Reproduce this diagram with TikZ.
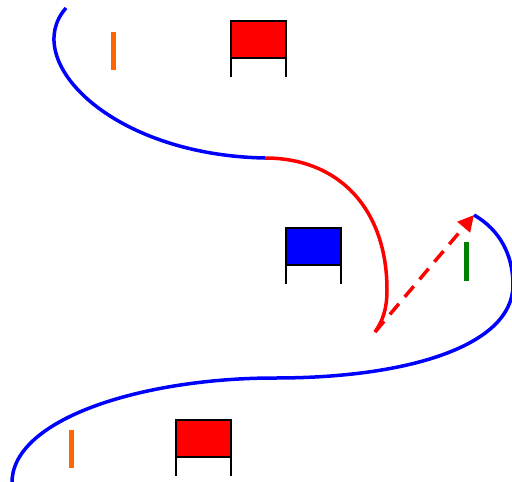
\documentclass[tikz,border=0pt]{standalone}
\usetikzlibrary{arrows.meta}
\definecolor{myorange}{RGB}{255,102,0}
\definecolor{mygreen}{RGB}{0,128,0}
\tikzset{
  path/.style={line width=3.5pt},
  flagbox/.style={draw=black, line width=2pt, minimum width=55pt, minimum height=37pt, inner sep=0pt, outer sep=0pt, anchor=north west},
  leg/.style={draw=black, line width=2pt},
  tick/.style={line width=5pt},
}
\begin{document}
\begin{tikzpicture}[x=1pt,y=-1pt]
\useasboundingbox (0,0) rectangle (512,482);
\clip (0,0) rectangle (512,482);
% named points
\coordinate (a0) at (66,8);
\coordinate (a1) at (265,158);
\coordinate (a2) at (387,290);
\coordinate (a3) at (375,332);
\coordinate (b0) at (474,215);
\coordinate (b1) at (513,285);
\coordinate (b2) at (275,378);
\coordinate (b3) at (12,484);
% top blue curve
\draw[path, blue] (a0) .. controls (20,60) and (110,155) .. (a1);
% red arc
\draw[path, red] (a1) .. controls (340,158) and (387,210) .. (a2)
  .. controls (387,310) and (382,322) .. (a3);
% lower blue curve
\draw[path, blue] (b0) .. controls (500,230) and (513,255) .. (b1)
  .. controls (513,345) and (410,378) .. (b2)
  .. controls (140,378) and (10,420) .. (b3);
% dashed arrow
\draw[red, line width=3.5pt, dash pattern=on 14pt off 9pt, -{Triangle[length=16pt,width=16pt]}] (a3) -- (b0);
% flags
\node[flagbox, fill=red] (f1) at (231,21) {};
\draw[leg] (f1.south west) -- ++(0,19);
\draw[leg] (f1.south east) -- ++(0,19);
\node[flagbox, fill=blue] (f2) at (286,228) {};
\draw[leg] (f2.south west) -- ++(0,19);
\draw[leg] (f2.south east) -- ++(0,19);
\node[flagbox, fill=red] (f3) at (176,420) {};
\draw[leg] (f3.south west) -- ++(0,19);
\draw[leg] (f3.south east) -- ++(0,19);
% ticks
\draw[tick, myorange] (113.5,32) -- (113.5,70);
\draw[tick, myorange] (71,430) -- (71,468);
\draw[tick, mygreen] (466.5,242) -- (466.5,281);
\end{tikzpicture}
\end{document}
